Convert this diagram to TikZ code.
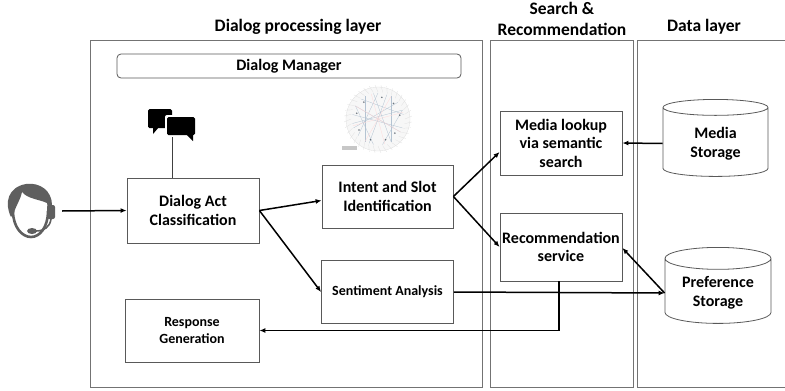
\documentclass[tikz,border=0pt]{standalone}
\usepackage{fontspec}
\setmainfont{Carlito}
\usetikzlibrary{shapes.geometric,arrows.meta}

\definecolor{iconfill}{HTML}{5F5F5F}
\definecolor{netline}{HTML}{B4C3D2}

\tikzset{
  layer/.style={draw=black!55, line width=0.8pt},
  block/.style={draw=black!65, fill=white, line width=0.8pt, align=center,
    font=\fontsize{16}{18.5}\selectfont\bfseries, inner sep=2pt},
  store/.style={cylinder, shape border rotate=90, aspect=0.28, draw=black!65,
    line width=0.8pt, align=center, font=\fontsize{16}{18.5}\selectfont\bfseries},
  flow/.style={-{Latex[length=6pt,width=5pt]}, line width=1.5pt},
  heading/.style={font=\fontsize{17.5}{21}\selectfont\bfseries, align=center}
}

\begin{document}
\begin{tikzpicture}[x=1pt,y=-1pt]
\useasboundingbox (0,0) rectangle (785,391);

% layers
\draw[layer] (90,40) rectangle (482,387);
\draw[layer] (490,40) rectangle (633,387);
\draw[layer] (790,40) -- (637,40) -- (637,387) -- (790,387);

\node[heading] (hdialog) at (298,27) {Dialog processing layer};
\node[heading] (hsearch) at (562,19) {Search \&\\Recommendation};
\node[heading] (hdata) at (704,27) {Data layer};

% dialog manager
\node[block, rounded corners=4pt, minimum width=344pt, minimum height=24pt] (dm) at (289,66) {Dialog Manager};

% boxes
\node[block, minimum width=132pt, minimum height=65pt] (dac) at (193,210.5) {Dialog Act\\Classification};
\node[block, minimum width=131pt, minimum height=63pt] (intent) at (387.5,196.5) {Intent and Slot\\Identification};
\node[block, minimum width=132pt, minimum height=63pt, font=\fontsize{14}{17}\selectfont\bfseries] (senti) at (387.5,292) {Sentiment Analysis};
\node[block, minimum width=134pt, minimum height=63pt, font=\fontsize{14}{17}\selectfont\bfseries] (resp) at (192,330.5) {Response\\Generation};
\node[block, minimum width=122pt, minimum height=64pt] (media) at (561,143) {Media lookup\\via semantic\\search};
\node[block, minimum width=122pt, minimum height=68pt] (rec) at (561,247) {Recommendation\\service};

% storage
\node[store, minimum width=105pt, minimum height=77pt] (mstore) at (715.5,143.5) {Media\\Storage};
\node[store, minimum width=106pt, minimum height=76pt] (pstore) at (718,293) {Preference\\Storage};

% user with headset
\begin{scope}[shift={(30,211)}]
  \fill[iconfill] (-19,6) .. controls (-26,-8) and (-22,-24) .. (-4,-27)
    .. controls (10,-29) and (22,-20) .. (22,-6) -- (19,2) -- (17,-8)
    .. controls (8,-12) and (-2,-12) .. (-8,-19) .. controls (-10,-10) and (-14,-6) .. (-16,2) -- cycle;
  \draw[iconfill, line width=2.6pt] (-17,0) .. controls (-17,16) and (-8,26) .. (1,26)
    .. controls (10,26) and (18,16) .. (18,0);
  \fill[iconfill, rounded corners=2pt] (17,-6) rectangle (25,8);
  \draw[iconfill, line width=1.6pt] (21,8) .. controls (20,16) and (14,20) .. (6,20);
  \fill[iconfill] (2,20) ellipse (5pt and 3pt);
  \node[inner sep=0pt, minimum size=0pt] (user) at (32,0) {};
\end{scope}

% chat bubbles
\begin{scope}[shift={(172,124)}]
  \fill[rounded corners=1.5pt] (-24,-15) rectangle (0,4);
  \fill (-19,3) -- (-19,10) -- (-13,3) -- cycle;
  \fill[white, rounded corners=2pt] (-7,-9) rectangle (24,12);
  \fill[rounded corners=1.5pt] (-5,-7) rectangle (23,11);
  \fill (14,10) -- (21,17) -- (21,10) -- cycle;
  \coordinate (chat) at (0,13);
\end{scope}

% entity graph thumbnail
\begin{scope}[shift={(378,119)}]
  \fill[black!3] (0,0) circle (32pt);
  \draw[black!12, line width=0.3pt] (0,0) circle (32pt);
  \foreach \a in {0,10,...,350}
    \draw[black!14, line width=0.2pt] (\a:27pt) -- (\a+5:34pt);
  \foreach \a/\b in {10/130, 40/200, 70/250, 100/300, 150/330, 190/20, 220/90, 260/150, 300/60, 340/170, 120/240, 20/280}
    \draw[netline, line width=0.3pt] (\a:26pt) -- (\b:26pt);
  \foreach \a in {15,60,105,150,195,240,285,330}
    \draw[red!15, line width=0.3pt] (0,0) -- (\a:26pt);
  \foreach \a in {10,45,80,130,165,210,250,290,320}
    \fill[netline!60!black] (\a:22pt) circle (0.9pt);
  \fill[black!22] (-36,27) rectangle (-21,31);
\end{scope}

% connectors
\draw[line width=1pt, black!75] (chat) -- (chat |- dac.north);
\draw[flow] (user) -- (dac.west);
\draw[flow] (dac.east) -- ([yshift=-4pt]intent.west);
\draw[flow] (dac.east) -- (senti.west);
\draw[flow] (intent.east) -- ([yshift=-9pt]media.west);
\draw[flow] (intent.east) -- (rec.west);
\draw[flow] (mstore.west) -- (media.east);
\draw[flow] (senti.east) -- (pstore.west);
\draw[flow] (pstore.west) -- ([yshift=-1pt]rec.east);
\draw[flow] ([xshift=-2pt]rec.south) |- (resp.east);

\end{tikzpicture}
\end{document}
